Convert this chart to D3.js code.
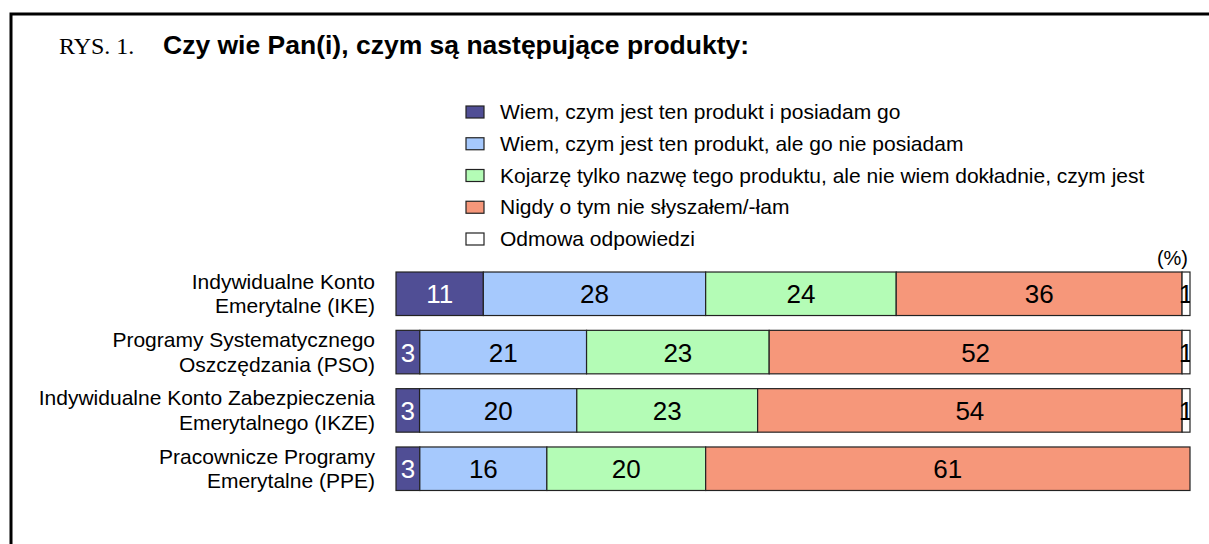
<!DOCTYPE html>
<html>
<head>
<meta charset="utf-8">
<script src="https://cdn.jsdelivr.net/npm/d3@7"></script>
<style>
  body { margin: 0; background: #fff; }
  svg { display: block; font-family: Arial, "Liberation Sans", sans-serif; }
</style>
</head>
<body>
<svg width="1209" height="544"></svg>
<script>
// data (percent)
var categories = [
  ["Indywidualne Konto", "Emerytalne (IKE)"],
  ["Programy Systematycznego", "Oszczędzania (PSO)"],
  ["Indywidualne Konto Zabezpieczenia", "Emerytalnego (IKZE)"],
  ["Pracownicze Programy", "Emerytalne (PPE)"]
];
var seriesNames = [
  "Wiem, czym jest ten produkt i posiadam go",
  "Wiem, czym jest ten produkt, ale go nie posiadam",
  "Kojarzę tylko nazwę tego produktu, ale nie wiem dokładnie, czym jest",
  "Nigdy o tym nie słyszałem/-łam",
  "Odmowa odpowiedzi"
];
var owns    = [11, 3, 3, 3];
var knows   = [28, 21, 20, 16];
var heard   = [24, 23, 23, 20];
var never   = [36, 52, 54, 61];
var refused = [1, 1, 1, 0];

var colors = ["#504e95", "#a6c9fd", "#b4fcb6", "#f6977a", "#ffffff"];
var labelColors = ["#ffffff", "#000", "#000", "#000", "#000"];

var svg = d3.select("svg");

// frame
svg.append("rect")
    .attr("x", 11).attr("y", 14)
    .attr("width", 1220).attr("height", 560)
    .attr("fill", "none")
    .attr("stroke", "#000")
    .attr("stroke-width", 3);

// title
svg.append("text")
    .attr("x", 59).attr("y", 54)
    .style("font-family", "'Liberation Serif', 'Times New Roman', serif")
    .style("font-size", "24px")
    .text("RYS. 1.");
svg.append("text")
    .attr("x", 163).attr("y", 54)
    .style("font-weight", "bold")
    .style("font-size", "26.5px")
    .text("Czy wie Pan(i), czym są następujące produkty:");

// table for the stack
var series = [owns, knows, heard, never, refused];
var rows = categories.map(function(c, i) {
  var r = { idx: i };
  series.forEach(function(s, j) { r[j] = s[i]; });
  return r;
});
var stacked = d3.stack()
    .keys(d3.range(series.length))
    .offset(d3.stackOffsetExpand)(rows);

var x = d3.scaleLinear().domain([0, 1]).range([396, 1190]);
var y = d3.scaleBand()
    .domain(d3.range(categories.length))
    .range([257.2, 505.3])
    .padding(0.254);

svg.append("clipPath").attr("id", "plotclip")
  .append("rect")
    .attr("x", x(0)).attr("y", 0)
    .attr("width", x(1) - x(0)).attr("height", 544);

var layer = svg.append("g").selectAll("g")
  .data(stacked)
  .enter().append("g")
    .attr("fill", function(d) { return colors[d.key]; });

layer.selectAll("rect")
  .data(function(d) { return d; })
  .enter().append("rect")
    .attr("x", function(d) { return x(d[0]); })
    .attr("y", function(d) { return y(d.data.idx); })
    .attr("width", function(d) { return x(d[1]) - x(d[0]); })
    .attr("height", y.bandwidth())
    .attr("stroke", "#222")
    .attr("stroke-width", 1.2);

var labels = svg.append("g").attr("clip-path", "url(#plotclip)");
stacked.forEach(function(s) {
  labels.selectAll(null)
    .data(s.filter(function(d) { return d.data[s.key] > 0; }))
    .enter().append("text")
      .attr("x", function(d) { return (x(d[0]) + x(d[1])) / 2; })
      .attr("y", function(d) { return y(d.data.idx) + y.bandwidth() / 2 + 9.5; })
      .attr("text-anchor", "middle")
      .attr("fill", labelColors[s.key])
      .style("font-size", "26px")
      .text(function(d) { return d.data[s.key]; });
});

// category labels
var cat = svg.append("g").selectAll("text")
  .data(categories)
  .enter().append("text")
    .attr("text-anchor", "end")
    .style("font-size", "21px")
    .attr("transform", function(d, i) {
      return "translate(375," + (y(i) + y.bandwidth() / 2) + ")";
    });
cat.selectAll("tspan")
  .data(function(d) { return d; })
  .enter().append("tspan")
    .attr("x", 0)
    .attr("y", function(d, i) { return i === 0 ? -5 : 19.5; })
    .text(function(d) { return d; });

// legend
var legend = svg.append("g").selectAll("g")
  .data(seriesNames)
  .enter().append("g")
    .attr("transform", function(d, i) { return "translate(466," + (112 + i * 31.75) + ")"; });
legend.append("rect")
    .attr("x", 0).attr("y", -6)
    .attr("width", 18).attr("height", 12)
    .attr("fill", function(d, i) { return colors[i]; })
    .attr("stroke", "#222")
    .attr("stroke-width", 1.2);
legend.append("text")
    .attr("x", 34).attr("y", 7)
    .style("font-size", "21px")
    .text(function(d) { return d; });

svg.append("text")
    .attr("x", 1188).attr("y", 265)
    .attr("text-anchor", "end")
    .style("font-size", "20px")
    .text("(%)");
</script>
</body>
</html>
